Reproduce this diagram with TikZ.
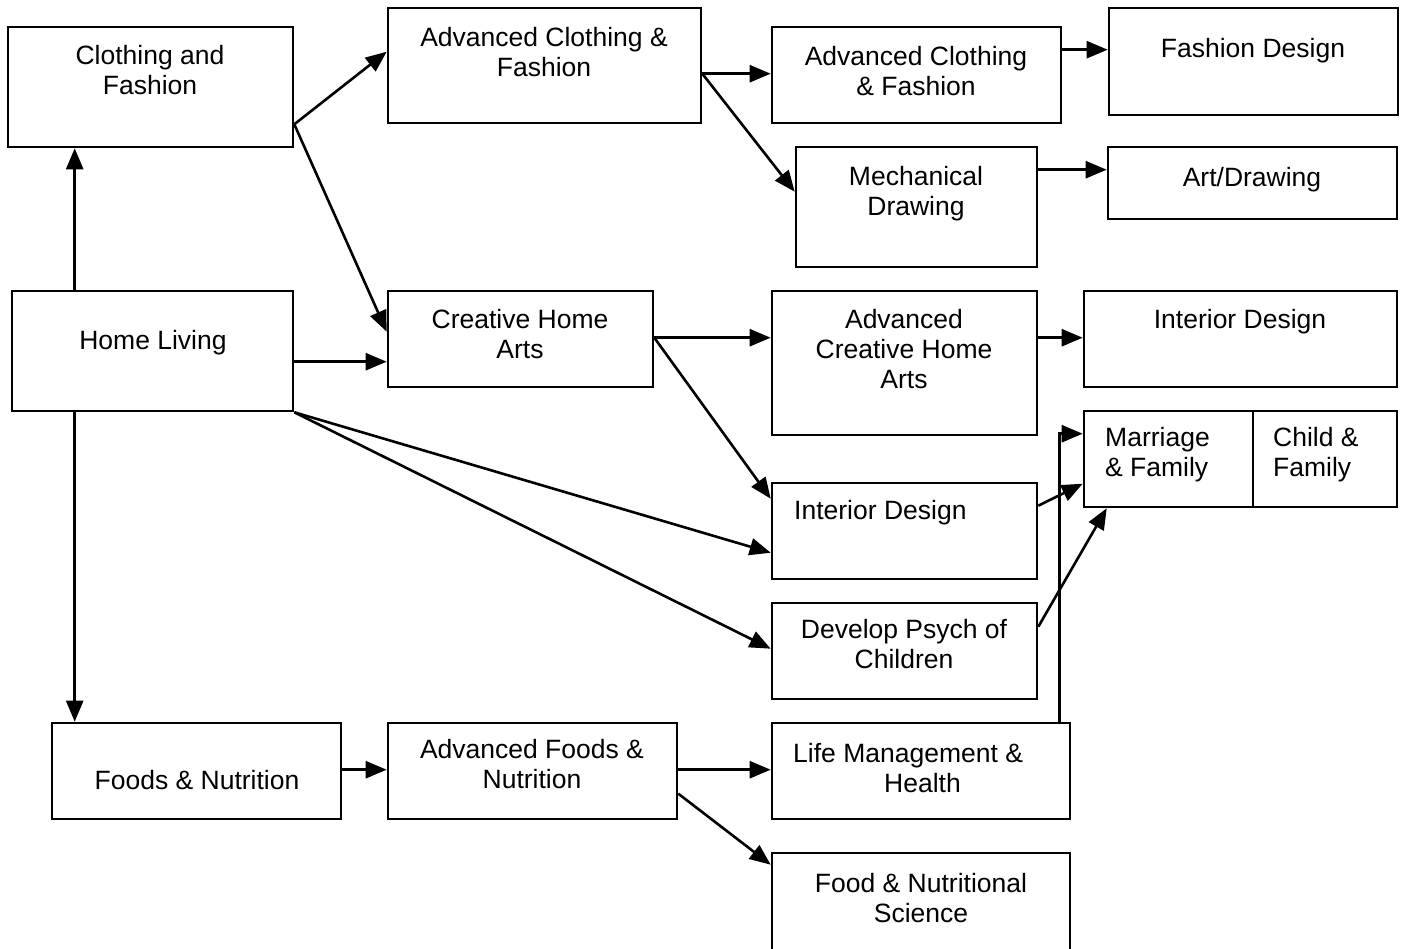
\documentclass[tikz,border=0pt]{standalone}
\usepackage{fontspec}
\setmainfont{Liberation Sans}
\usetikzlibrary{arrows.meta,fit,calc}
\tikzset{
  box/.style={draw=black,line width=2.6pt,inner sep=0pt,fill=none},
  txt/.style={inner sep=0pt,align=center,anchor=north,font=\fontsize{26.5}{29.8}\selectfont},
  txtl/.style={inner sep=0pt,align=left,anchor=north west,font=\fontsize{26.5}{29.8}\selectfont},
  arr/.style={line width=2.6pt,-{Triangle[length=21pt,width=17pt]}}
}
\begin{document}
\begin{tikzpicture}[x=1pt,y=-1pt]
\clip (0,0) rectangle (1405,948);
\fill[white] (0,0) rectangle (1405,948);
% boxes
\node[box,fit={(8,27) (293,147)}] (cf) {};
\node[box,fit={(388,8) (701,123)}] (acf1) {};
\node[box,fit={(772,27) (1061,123)}] (acf2) {};
\node[box,fit={(1109,8) (1398,115)}] (fd) {};
\node[box,fit={(796,147) (1037,267)}] (md) {};
\node[box,fit={(1108,147) (1397,219)}] (ad) {};
\node[box,fit={(12,291) (293,411)}] (hl) {};
\node[box,fit={(388,291) (653,387)}] (cha) {};
\node[box,fit={(772,291) (1037,435)}] (acha) {};
\node[box,fit={(1084,291) (1397,387)}] (id2) {};
\node[box,fit={(1084,411) (1253,507)}] (mf) {};
\node[box,fit={(1253,411) (1397,507)}] (chf) {};
\node[box,fit={(772,483) (1037,579)}] (id1) {};
\node[box,fit={(772,603) (1037,699)}] (dp) {};
\node[box,fit={(52,723) (341,819)}] (fn) {};
\node[box,fit={(388,723) (677,819)}] (afn) {};
\node[box,fit={(772,723) (1070,819)}] (lm) {};
\node[box,fit={(772,853) (1070,962)}] (fns) {};
% texts
\node[txt] (cf-t) at (150,45) {Clothing and\\Fashion};
\node[txt] (acf1-t) at (544,27) {Advanced Clothing \&\\Fashion};
\node[txt] (acf2-t) at (916,46) {Advanced Clothing\\\& Fashion};
\node[txt] (fd-t) at (1253,38) {Fashion Design};
\node[txt] (md-t) at (916,166) {Mechanical\\Drawing};
\node[txt] (ad-t) at (1252,167) {Art/Drawing};
\node[txt] (hl-t) at (153,330) {Home Living};
\node[txt] (cha-t) at (520,309) {Creative Home\\Arts};
\node[txt] (acha-t) at (904,309) {Advanced\\Creative Home\\Arts};
\node[txt] (id2-t) at (1240,309) {Interior Design};
\node[txtl] (mf-t) at (1105,427) {Marriage\\\& Family};
\node[txtl] (chf-t) at (1273,427) {Child \&\\Family};
\node[txtl] (id1-t) at (794,500) {Interior Design};
\node[txt] (dp-t) at (904,619) {Develop Psych of\\Children};
\node[txt] (fn-t) at (197,770) {Foods \& Nutrition};
\node[txt] (afn-t) at (532,739) {Advanced Foods \&\\Nutrition};
\node[txtl] (lm-t) at (793,743) {Life Management \&\\\hspace*{91pt}Health};
\node[txt] (fns-t) at (921,873) {Food \& Nutritional\\Science};
% connectors
\draw[arr] ($(hl.north west)+(64,0)$) -- ($(cf.south west)+(68,0)$);
\draw[arr] ($(hl.south west)+(64,0)$) -- ($(fn.north west)+(24,0)$);
\draw[arr] ($(cf.south east)+(0,-24)$) -- ($(acf1.north west)+(0,45)$);
\draw[arr] ($(cf.south east)+(0,-24)$) -- ($(cha.north west)+(0,42)$);
\draw[arr] ($(hl.north east)+(0,72)$) -- ($(cha.north west)+(0,72)$);
\draw[arr] (hl.south east) -- ($(id1.north west)+(0,71)$);
\draw[arr] (hl.south east) -- ($(dp.north west)+(0,47)$);
\draw[arr] ($(acf1.north east)+(0,67)$) -- ($(acf2.north west)+(0,48)$);
\draw[arr] ($(acf1.north east)+(0,67)$) -- ($(md.north west)+(0,46)$);
\draw[arr] ($(acf2.north east)+(0,24)$) -- ($(fd.north west)+(0,43)$);
\draw[arr] ($(md.north east)+(0,24)$) -- ($(ad.north west)+(0,24)$);
\draw[arr] ($(cha.north east)+(0,48)$) -- ($(acha.north west)+(0,48)$);
\draw[arr] ($(cha.north east)+(0,48)$) -- ($(id1.north west)+(0,17)$);
\draw[arr] ($(acha.north east)+(0,48)$) -- ($(id2.north west)+(0,48)$);
\draw[arr] ($(id1.north east)+(0,24)$) -- ($(mf.north west)+(0,74)$);
\draw[arr] ($(dp.north east)+(0,25)$) -- ($(mf.south west)+(24,0)$);
\draw[arr] ($(lm.north west)+(289,0)$) |- ($(mf.north west)+(0,24)$);
\draw[arr] ($(fn.north east)+(0,48)$) -- ($(afn.north west)+(0,48)$);
\draw[arr] ($(afn.north east)+(0,48)$) -- ($(lm.north west)+(0,48)$);
\draw[arr] ($(afn.north east)+(0,72)$) -- ($(fns.north west)+(0,13)$);
\end{tikzpicture}
\end{document}
